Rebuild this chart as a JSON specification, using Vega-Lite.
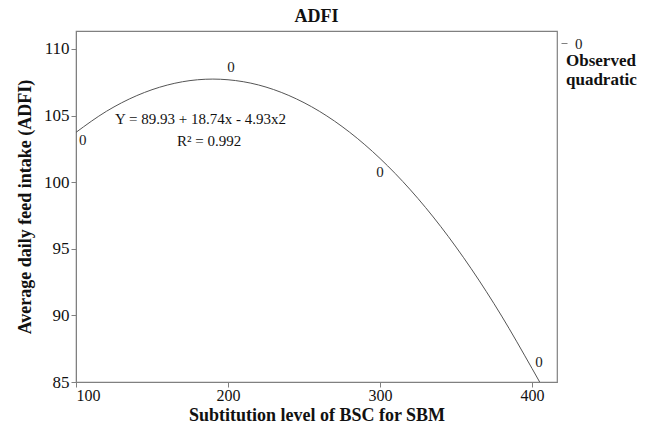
{
  "$schema": "https://vega.github.io/schema/vega-lite/v6.json",
  "width": 481,
  "height": 351,
  "autosize": {"type": "none"},
  "padding": {"left": 76, "top": 31, "right": 90, "bottom": 48},
  "background": "white",
  "config": {
    "font": "Liberation Serif",
    "view": {"stroke": "#808080", "strokeWidth": 1.2},
    "axis": {
      "grid": false,
      "domainColor": "#808080",
      "tickColor": "#808080",
      "tickSize": 5,
      "labelFont": "Liberation Serif",
      "labelFontSize": 17,
      "labelColor": "#111",
      "titleFont": "Liberation Serif",
      "titleFontSize": 18,
      "titleFontWeight": "bold",
      "titleColor": "#111"
    }
  },
  "title": {
    "text": "ADFI",
    "font": "Liberation Serif",
    "fontSize": 18,
    "fontWeight": "bold",
    "color": "#111",
    "anchor": "middle",
    "offset": 5
  },
  "datasets": {
    "curve": [
      {"level": 100, "adfi": 103.74},
      {"level": 120, "adfi": 105.32},
      {"level": 140, "adfi": 106.50},
      {"level": 160, "adfi": 107.29},
      {"level": 180, "adfi": 107.69},
      {"level": 190, "adfi": 107.74},
      {"level": 200, "adfi": 107.69},
      {"level": 220, "adfi": 107.30},
      {"level": 240, "adfi": 106.51},
      {"level": 260, "adfi": 105.33},
      {"level": 280, "adfi": 103.75},
      {"level": 300, "adfi": 101.78},
      {"level": 320, "adfi": 99.42},
      {"level": 340, "adfi": 96.66},
      {"level": 360, "adfi": 93.50},
      {"level": 380, "adfi": 89.95},
      {"level": 400, "adfi": 86.01},
      {"level": 405, "adfi": 85.0}
    ],
    "observed": [
      {"level": 104.5, "adfi": 103.2, "label": "0"},
      {"level": 202, "adfi": 108.65, "label": "0"},
      {"level": 300, "adfi": 100.8, "label": "0"},
      {"level": 404.5, "adfi": 86.5, "label": "0"}
    ],
    "notes": [
      {"level": 125.7, "adfi": 104.75, "note": "Y = 89.93 + 18.74x - 4.93x2"},
      {"level": 166.4, "adfi": 103.1, "note": "R² = 0.992"}
    ]
  },
  "layer": [
    {
      "data": {"name": "curve"},
      "mark": {"type": "line", "color": "#555", "strokeWidth": 1, "interpolate": "monotone", "clip": true},
      "encoding": {
        "x": {
          "field": "level", "type": "quantitative",
          "scale": {"domain": [100, 416.4], "nice": false, "zero": false},
          "axis": {"values": [100, 200, 300, 400], "title": "Subtitution level of BSC for SBM", "labelFontSize": 16, "labelPadding": 0, "titlePadding": 3}
        },
        "y": {
          "field": "adfi", "type": "quantitative",
          "scale": {"domain": [85, 111.35], "nice": false, "zero": false},
          "axis": {"values": [85, 90, 95, 100, 105, 110], "title": "Average daily feed intake (ADFI)", "labelPadding": 2, "titlePadding": 9}
        }
      }
    },
    {
      "data": {"name": "observed"},
      "mark": {"type": "text", "font": "Liberation Serif", "fontSize": 15, "baseline": "middle", "align": "center"},
      "encoding": {
        "x": {"field": "level", "type": "quantitative"},
        "y": {"field": "adfi", "type": "quantitative"},
        "text": {"field": "label"},
        "color": {
          "field": "label", "type": "nominal",
          "scale": {"range": ["#222"]},
          "legend": {
            "orient": "none",
            "legendX": 490,
            "legendY": 5,
            "title": ["Observed", "quadratic"],
            "titleOrient": "bottom",
            "titleFont": "Liberation Serif",
            "titleFontSize": 17,
            "titleFontWeight": "bold",
            "titleColor": "#111",
            "titlePadding": 1,
            "titleLineHeight": 19,
            "labelFont": "Liberation Serif",
            "labelFontSize": 15,
            "labelColor": "#222",
            "labelOffset": 3,
            "symbolType": "stroke",
            "symbolSize": 36,
            "symbolOffset": -9,
            "symbolStrokeColor": "#808080",
            "symbolStrokeWidth": 1,
            "padding": 0
          }
        }
      }
    },
    {
      "data": {"name": "notes"},
      "mark": {"type": "text", "font": "Liberation Serif", "fontSize": 15, "baseline": "middle", "align": "left", "color": "#111"},
      "encoding": {
        "x": {"field": "level", "type": "quantitative"},
        "y": {"field": "adfi", "type": "quantitative"},
        "text": {"field": "note"}
      }
    }
  ]
}
